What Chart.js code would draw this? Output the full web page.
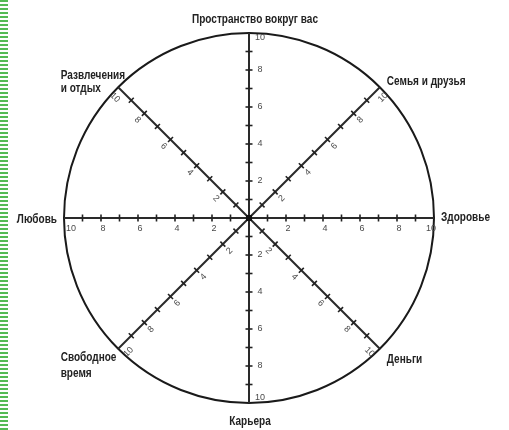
<!DOCTYPE html>
<html><head><meta charset="utf-8">
<script src="https://cdn.jsdelivr.net/npm/chart.js@4/dist/chart.umd.min.js"></script>
<style>
html,body{margin:0;padding:0;background:#fff;}
body{width:509px;height:430px;position:relative;overflow:hidden;}
#stripe{position:absolute;left:0;top:0;width:8px;height:430px;background:repeating-linear-gradient(to bottom,#55bb55 0 2px,#ffffff 2px 4px);}
#wrap{position:absolute;left:0;top:0;width:509px;height:430px;}
</style></head>
<body>
<div id="wrap"><canvas id="c" width="509" height="430"></canvas></div>
<div id="stripe"></div>
<script>
// Categories clockwise from the top
const categories = [
  'Пространство вокруг вас',
  'Семья и друзья',
  'Здоровье',
  'Деньги',
  'Карьера',
  ['Свободное', 'время'],
  'Любовь',
  ['Развлечения', 'и отдых']
];
// Scale values (every unit gets a tick mark)
const tickValues = [1, 2, 3, 4, 5, 6, 7, 8, 9];
// Values that carry a number label
const labelValues = [2, 4, 6, 8, 10];
const scaleMin = 0;
const scaleMax = 10;

const FONT_LABEL = '"Liberation Sans", Arial, sans-serif';
const FONT_TICK = '"Liberation Sans", Arial, sans-serif';

const wheelPlugin = {
  id: 'wheel',
  afterDraw(chart) {
    const s = chart.scales.r;
    const ctx = chart.ctx;
    const n = chart.data.labels.length;
    ctx.save();
    const rotations = [0, -45, 0, 45, 0, -45, 0, 45];
    for (let i = 0; i < n; i++) {
      const end = s.getPointPosition(i, s.getDistanceFromCenterForValue(scaleMax));
      const len = Math.hypot(end.x - s.xCenter, end.y - s.yCenter);
      const dx = (end.x - s.xCenter) / len, dy = (end.y - s.yCenter) / len;
      const side = i < 4 ? 1 : -1;
      const px = -dy * side, py = dx * side;
      // tick marks
      ctx.strokeStyle = '#222';
      ctx.lineWidth = 1.6;
      tickValues.forEach(v => {
        const p = s.getPointPosition(i, s.getDistanceFromCenterForValue(v));
        ctx.beginPath();
        ctx.moveTo(p.x - px * 3.5, p.y - py * 3.5);
        ctx.lineTo(p.x + px * 3.5, p.y + py * 3.5);
        ctx.stroke();
      });
      // tick labels
      ctx.fillStyle = '#4a4a4a';
      ctx.font = '9px ' + FONT_TICK;
      ctx.textAlign = 'center';
      ctx.textBaseline = 'middle';
      labelValues.forEach(v => {
        let d = s.getDistanceFromCenterForValue(v);
        if (v === scaleMax) d -= 5;
        const p = s.getPointPosition(i, d);
        const off = rotations[i] === 0 ? 11 : 9.5;
        ctx.save();
        ctx.translate(p.x + px * off + (i === 2 || i === 6 ? 2 : 0), p.y + py * off);
        ctx.rotate(rotations[i] * Math.PI / 180);
        ctx.fillText(String(v), 0, 0);
        ctx.restore();
      });
    }
    // center dot
    ctx.fillStyle = '#111';
    ctx.fillRect(s.xCenter - 3, s.yCenter - 3, 6, 6);

    // category labels (narrow face: horizontally condensed)
    ctx.fillStyle = '#222';
    ctx.font = 'bold 12px ' + FONT_LABEL;
    ctx.textBaseline = 'middle';
    const k = 126 / ctx.measureText(categories[0]).width;
    const R = s.drawingArea;
    const pos = i => s.getPointPosition(i, R);
    const place = [
      {dx: 6, dy: -13, align: 'center', lh: 14},
      {dx: 7, dy: -5, align: 'left', lh: 14},
      {dx: 7, dy: 0, align: 'left', lh: 14},
      {dx: 7, dy: 11, align: 'left', lh: 14},
      {dx: 1, dy: 19, align: 'center', lh: 14},
      {dx: -57.5, dy: 9, align: 'left', lh: 16},
      {dx: -7, dy: 2, align: 'right', lh: 14},
      {dx: -57.5, dy: -11, align: 'left', lh: 13}
    ];
    categories.forEach((lab, i) => {
      const p = pos(i);
      const pl = place[i];
      const lines = Array.isArray(lab) ? lab : [lab];
      lines.forEach((t, j) => {
        ctx.save();
        ctx.translate(p.x + pl.dx, p.y + pl.dy + j * pl.lh);
        ctx.scale(k, 1);
        ctx.textAlign = pl.align;
        ctx.fillText(t, 0, 0);
        ctx.restore();
      });
    });
    ctx.restore();
  }
};

new Chart(document.getElementById('c'), {
  type: 'radar',
  data: { labels: categories, datasets: [] },
  options: {
    responsive: false,
    animation: false,
    layout: { padding: { left: 64, right: 75, top: 33, bottom: 27 } },
    plugins: { legend: { display: false }, tooltip: { enabled: false } },
    scales: {
      r: {
        min: scaleMin,
        max: scaleMax,
        startAngle: 0,
        ticks: { display: false, stepSize: 1 },
        grid: {
          circular: true,
          lineWidth: 2,
          color: c => (c.tick && c.tick.value === scaleMax) ? '#1a1a1a' : 'rgba(0,0,0,0)'
        },
        angleLines: { display: true, color: '#2a2a2a', lineWidth: 2 },
        pointLabels: { display: false }
      }
    }
  },
  plugins: [wheelPlugin]
});
</script>
</body></html>
